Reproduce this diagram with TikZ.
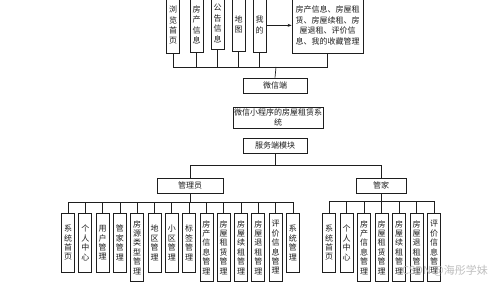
\documentclass[tikz,border=0pt]{standalone}
\usepackage{fontspec}
\setmainfont{Noto Sans CJK SC}
\usetikzlibrary{arrows.meta}
\definecolor{Ink}  {HTML}{1E1E1E}
\definecolor{WMark}{HTML}{B4B4B4}
\tikzset{
  vbox/.style={
    rectangle, draw=Ink, fill=white, text=Ink,
    font=\fontsize{8}{9.4}\selectfont, align=center,
    inner xsep=2.5pt, inner ysep=7pt, minimum width=13pt, minimum height=59pt,
    line width=0.7pt, anchor=north,
  },
  tbox/.style={
    vbox, font=\fontsize{8}{10.4}\selectfont, minimum height=#1,
  },
  hbox/.style={
    rectangle, draw=Ink, fill=white, text=Ink,
    font=\fontsize{8}{10.4}\selectfont, align=center,
    inner xsep=1pt, inner ysep=1pt, minimum width=64pt, minimum height=15pt,
    line width=0.7pt,
  },
  wire/.style={
    draw=Ink, line width=0.7pt,
  },
  arr/.style={
    -{Stealth[length=4pt,width=3pt]}, wire,
  },
}
\begin{document}
\begin{tikzpicture}[x=1pt,y=-1pt]
    \useasboundingbox[fill=white] (0,0) rectangle (499,286);
    \clip (0,0) rectangle (499,286);
    % user side
    \node[tbox=56pt] (t1) at (173,-3)   {浏\\览\\首\\页};
    \node[tbox=55pt] (t2) at (196.5,-3) {房\\产\\信\\息};
    \node[tbox=50pt] (t3) at (217.5,-3) {公\\告\\信\\息};
    \node[tbox=54pt] (t4) at (238.5,-3) {地\\图};
    \node[tbox=55pt] (t5) at (259.5,-3) {我\\的};
    \node[tbox=56pt, minimum width=71pt, inner xsep=1pt] (my) at (327.5,-3)
      {房产信息、房屋租\\赁、房屋续租、房\\屋退租、评价信\\息、我的收藏管理};
    \draw[arr] (t5.east |- my.west) -- (my.west);
    \coordinate (tbus) at (276,67);
    \draw[wire] (t1.south) |- (tbus); \draw[wire] (t2.south) |- (tbus);
    \draw[wire] (t3.south) |- (tbus); \draw[wire] (t4.south) |- (tbus);
    \draw[wire] (t5.south) |- (tbus); \draw[wire] (my.south) |- (tbus);
    % system
    \node[hbox] (wx) at (275,85.5)  {微信端};
    \node[hbox, minimum width=88pt, minimum height=21pt] (sys) at (278,117.5)
      {微信小程序的房屋租赁系\\统};
    \node[hbox] (srv) at (275,145.5) {服务端模块};
    \draw[wire] (tbus) -- (wx.north);
    % roles
    \node[hbox, minimum width=66pt] (adm) at (190,185.5) {管理员};
    \node[hbox, minimum width=50pt] (gj)  at (381,185.5) {管家};
    \coordinate (mbus) at (275,165);
    \draw[wire] (srv.south) -- (mbus);
    \draw[wire] (mbus) -| (adm.north); \draw[wire] (mbus) -| (gj.north);
    % admin modules
    \node[vbox] (a1)  at (68,213)    {系\\统\\首\\页};
    \node[vbox] (a2)  at (85.3,213)  {个\\人\\中\\心};
    \node[vbox] (a3)  at (102.6,213) {用\\户\\管\\理};
    \node[vbox] (a4)  at (119.9,213) {管\\家\\管\\理};
    \node[vbox] (a5)  at (137.2,213) {房\\源\\类\\型\\管\\理};
    \node[vbox] (a6)  at (154.5,213) {地\\区\\管\\理};
    \node[vbox] (a7)  at (171.8,213) {小\\区\\管\\理};
    \node[vbox] (a8)  at (189.1,213) {标\\签\\管\\理};
    \node[vbox] (a9)  at (206.4,213) {房\\产\\信\\息\\管\\理};
    \node[vbox] (a10) at (223.7,213) {房\\屋\\租\\赁\\管\\理};
    \node[vbox] (a11) at (241,213)   {房\\屋\\续\\租\\管\\理};
    \node[vbox] (a12) at (258.3,213) {房\\屋\\退\\租\\管\\理};
    \node[vbox] (a13) at (275.6,213) {评\\价\\信\\息\\管\\理};
    \node[vbox] (a14) at (292.9,213) {系\\统\\管\\理};
    \coordinate (abus) at (190,202);
    \draw[wire] (adm.south) -- (abus);
    \foreach \n in {a1,a2,a3,a4,a5,a6,a7,a8,a9,a10,a11,a12,a13,a14}
      \draw[wire] (\n.north) |- (abus);
    % manager modules
    \node[vbox] (g1) at (329,213)   {系\\统\\首\\页};
    \node[vbox] (g2) at (346.5,213) {个\\人\\中\\心};
    \node[vbox] (g3) at (364,213)   {房\\产\\信\\息\\管\\理};
    \node[vbox] (g4) at (381.5,213) {房\\屋\\租\\赁\\管\\理};
    \node[vbox] (g5) at (399,213)   {房\\屋\\续\\租\\管\\理};
    \node[vbox] (g6) at (416.5,213) {房\\屋\\退\\租\\管\\理};
    \node[vbox] (g7) at (434,213)   {评\\价\\信\\息\\管\\理};
    \coordinate (gbus) at (381,201);
    \draw[wire] (gj.south) -- (gbus);
    \foreach \n in {g1,g2,g3,g4,g5,g6,g7}
      \draw[wire] (\n.north) |- (gbus);
    % watermark
    \node[text=WMark, opacity=0.85, font=\fontsize{11}{11}\selectfont, inner sep=0pt] (wm) at (445,271) {CSDN @海彤学妹};
\end{tikzpicture}
\end{document}
